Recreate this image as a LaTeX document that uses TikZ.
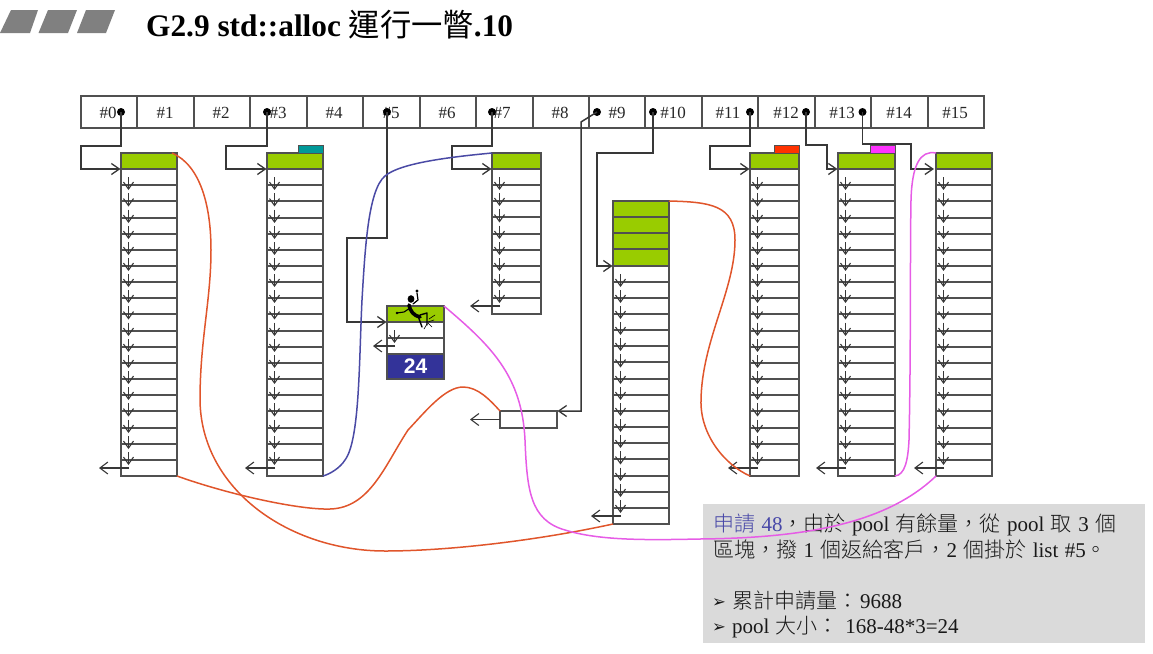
\documentclass[tikz,border=0pt]{standalone}
\usepackage{fontspec}
\usetikzlibrary{arrows.meta,calc}
\setmainfont{Liberation Serif}
\newfontfamily\cjk{Noto Sans CJK TC Light}
\newfontfamily\cjkt{Noto Sans CJK TC}
\newfontfamily\djv{DejaVu Sans}
\newfontfamily\lsans{Liberation Sans}
\definecolor{gline}{HTML}{505050}
\definecolor{dline}{HTML}{383838}
\definecolor{bargreen}{HTML}{99CC00}
\definecolor{hdrgrey}{HTML}{808080}
\definecolor{panelgrey}{HTML}{DADADA}
\definecolor{curveorange}{HTML}{E0552B}
\definecolor{curvemagenta}{HTML}{E65CE6}
\definecolor{curveblue}{HTML}{4A4AA5}
\definecolor{textblue}{HTML}{4848A8}
\definecolor{boxblue}{HTML}{333399}
\definecolor{tagteal}{HTML}{009999}
\definecolor{tagred}{HTML}{FF3300}
\definecolor{tagmagenta}{HTML}{FF33FF}
\newcommand{\gp}{\hspace{6.4pt}}
\tikzset{
  x=1pt,y=-1pt,
  cellbox/.style={draw=gline,line width=1.5pt,inner sep=0pt,outer sep=0pt,anchor=north west,rectangle},
  hdrlabel/.style={font=\fontsize{17}{18}\selectfont,text=black!85,inner sep=0pt},
  pdot/.style={circle,fill=black,inner sep=0pt,outer sep=0pt,minimum size=8pt},
  linkline/.style={draw=dline,line width=1.5pt,line join=miter},
  linkarrow/.style={linkline,-{Straight Barb[length=8pt,width=11pt,line width=1.3pt]},shorten >=0.5pt},
  nextarrow/.style={draw=dline,line width=1.1pt,-{Straight Barb[length=7pt,width=10pt,line width=1.1pt]}},
  outarrow/.style={draw=dline,line width=1.1pt,-{Straight Barb[length=8pt,width=12pt,line width=1.1pt]}},
  curve/.style={line width=1.5pt},
  tagbox/.style={draw=gline,line width=0.8pt,inner sep=0pt,outer sep=0pt,anchor=south east,minimum height=8pt,minimum width=25pt},
  panelline/.style={anchor=base west,inner sep=0pt,font=\fontsize{21}{24}\selectfont,text=black!90},
}
% name, left, top, width, rows, row height, green rows, arrow tip offset
\newcommand{\memstack}[8]{%
  \foreach \i in {1,...,#5}{%
    \pgfmathsetmacro{\yy}{round(#3+(\i-1)*#6)}%
    \pgfmathsetmacro{\hh}{round(#3+\i*#6)-\yy}%
    \pgfmathtruncatemacro{\isg}{\i<=#7 ? 1 : 0}%
    \ifnum\isg=1\relax
      \node[cellbox,fill=bargreen,minimum width=#4 pt,minimum height=\hh pt] (#1-\i) at (#2,\yy) {};
    \else
      \node[cellbox,fill=white,minimum width=#4 pt,minimum height=\hh pt] (#1-\i) at (#2,\yy) {};
    \fi
  }%
  \pgfmathtruncatemacro{\first}{#7+1}%
  \pgfmathtruncatemacro{\penult}{#5-1}%
  \foreach \i in {\first,...,\penult}{%
    \pgfmathtruncatemacro{\nx}{\i+1}%
    \draw[nextarrow] ($(#1-\i.west)+(7.5,0)$) -- ($(#1-\nx.west)+(7.5,-3)$);
  }%
  \draw[outarrow] ($(#1-#5.west)+(8,0)$) -- ($(#1-#5.west)+(#8,0)$);
}
\begin{document}
\begin{tikzpicture}
\useasboundingbox (0,0) rectangle (1153,653);
% header marks
\fill[hdrgrey] (11,10) -- (38,10) -- (30,33) -- (0,33) -- cycle;
\fill[hdrgrey] (48,10) -- (77,10) -- (68,33) -- (38.5,33) -- cycle;
\fill[hdrgrey] (86,10) -- (115,10) -- (106,33) -- (77,33) -- cycle;
\node[anchor=base west,inner sep=0pt,font=\fontsize{31.3}{34}\selectfont\bfseries] (title) at (146,36) {G2.9 std::alloc {\mdseries\cjkt 運行一瞥}.10};
% header cells
\foreach \n in {0,...,15}{%
  \pgfmathsetmacro{\xx}{round(81+\n*56.45)}%
  \pgfmathsetmacro{\ww}{round(81+(\n+1)*56.45)-\xx}%
  \node[cellbox,minimum width=\ww pt,minimum height=32pt] (h\n) at (\xx,96) {};
}
\foreach \n/\xx in {0/108,1/165,2/221,3/278,4/334,5/391,6/447,7/502,8/560,9/617,10/673,11/728,12/786,13/842,14/899,15/955}{%
  \node[hdrlabel] (hl\n) at (\xx,113) {\#\n};
}
% stacks
\memstack{s0}{121}{153}{56}{20}{16.15}{1}{-22}
\memstack{s3}{267}{153}{56}{20}{16.15}{1}{-22}
\memstack{s7}{492}{153}{49}{10}{16.1}{1}{-22}
\memstack{s10}{613}{201}{56}{20}{16.15}{4}{-22}
\memstack{s11}{750}{153}{49}{20}{16.15}{1}{-22}
\memstack{s12}{838}{153}{57}{20}{16.15}{1}{-22}
\memstack{s13}{936}{153}{56}{20}{16.15}{1}{-22}
\memstack{s5}{387}{306}{57}{3}{16}{1}{-14}
\node[cellbox,fill=white,minimum width=57pt,minimum height=17pt] (pool) at (500,411) {};
\draw[outarrow] (pool.west) -- ($(pool.west)+(-30,0)$);
\node[cellbox,fill=boxblue,minimum width=57pt,minimum height=25pt,text=white,font=\lsans\fontsize{21}{22}\selectfont\bfseries] (s5blue) at (387,354) {24};
% tags
\node[tagbox,fill=tagteal] (tagA) at (s3-1.north east) {};
\node[tagbox,fill=tagred] (tagB) at (s11-1.north east) {};
\node[tagbox,fill=tagmagenta] (tagC) at (s12-1.north east) {};
% pointers
\foreach \n/\xx in {0/121,3/267,5/387,7/492,9/597,10/653,11/750,12/806,13/862.5}{%
  \node[pdot] (d\n) at (\xx,112) {};
}
\coordinate (c0a) at (121,146); \coordinate (c0b) at (81,146);
\draw[linkarrow] (d0.center) -- (c0a) -- (c0b) |- (s0-1.south west);
\coordinate (c3a) at (267,146); \coordinate (c3b) at (226,146);
\draw[linkarrow] (d3.center) -- (c3a) -- (c3b) |- (s3-1.south west);
\coordinate (c5a) at (387,238); \coordinate (c5b) at (347,238);
\draw[linkarrow] (d5.center) -- (c5a) -- (c5b) |- (s5-1.south west);
\coordinate (c7a) at (492,146); \coordinate (c7b) at (452,146);
\draw[linkarrow] (d7.center) -- (c7a) -- (c7b) |- (s7-1.south west);
\coordinate (c9a) at (581,122); \coordinate (c9b) at (581,411);
\draw[linkarrow] (d9.center) -- (c9a) -- (c9b) -- (pool.north east);
\coordinate (c10a) at (653,153); \coordinate (c10b) at (597,153);
\draw[linkarrow] (d10.center) -- (c10a) -- (c10b) |- (s10-4.south west);
\coordinate (c11a) at (750,146); \coordinate (c11b) at (710,146);
\draw[linkarrow] (d11.center) -- (c11a) -- (c11b) |- (s11-1.south west);
\coordinate (c12a) at (806,145); \coordinate (c12b) at (827,145);
\draw[linkarrow] (d12.center) -- (c12a) -- (c12b) |- (s12-1.south west);
\coordinate (c13a) at (862.5,144); \coordinate (c13b) at (911,144);
\draw[linkarrow,shorten >=2pt] (d13.center) -- (c13a) -- (c13b) |- (s13-1.south west);
% stick figure
\begin{scope}[line cap=round,line join=round]
  \fill[black] (411,299) ellipse (3.4 and 3.8);
  \draw[black,line width=3.6pt] (409,305) .. controls (410,311) and (414,316) .. (420,317);
  \draw[black,line width=1.2pt] (413,304) -- (418,300) -- (417,293);
  \fill[black] (417,291) circle (1.7);
  \draw[black,line width=1.1pt] (410,308) -- (404,312) -- (397,313);
  \fill[black] (397,313) circle (1.4);
  \draw[black,line width=1.4pt] (418,316) -- (422,327);
  \draw[black,line width=1.4pt] (420,315) -- (427,313) -- (427,325);
  \draw[black,line width=0.6pt] (427,324) -- (424,329) (428,323) -- (432,327) (428,322) -- (434,320) (429,319) -- (435,315);
\end{scope}
% text panel
\node[fill=panelgrey,inner sep=0pt,outer sep=0pt,anchor=north west,minimum width=442pt,minimum height=139pt] (panel) at (702.5,504) {};
\node[panelline] (l1) at (713,531) {\textcolor{textblue}{{\cjk 申請}\gp 48}{\cjk ，由於}\gp pool\gp{\cjk 有餘量，從}\gp pool\gp{\cjk 取}\gp 3\gp{\cjk 個}};
\node[panelline] (l2) at (713,557) {{\cjk 區塊，撥}\gp 1\gp{\cjk 個返給客戶，}2\gp{\cjk 個掛於}\gp list\gp\#5{\cjk 。}};
\node[panelline,font=\fontsize{16.5}{18}\selectfont] (b3) at (712,607) {\djv ➢};
\node[panelline] (l3) at (732,608) {{\cjk 累計申請量：}\hspace{2pt}9688};
\node[panelline,font=\fontsize{16.5}{18}\selectfont] (b4) at (712,632) {\djv ➢};
\node[panelline] (l4) at (732,633) {pool\gp{\cjk 大小：}\gp 168-48*3=24};
% curves
\draw[curve,curveorange] ($(s0-1.north east)+(-5,0)$) .. controls (200,165) and (211,205) .. (211,250) .. controls (211,300) and (200,340) .. (200,400) .. controls (201,490) and (290,551) .. (385,551) .. controls (450,551) and (540,540) .. (s10-20.south west);
\draw[curve,curveorange] (s0-20.south east) .. controls (230,495) and (300,510) .. (330,509) .. controls (370,508) and (385,465) .. (408,430) .. controls (425,412) and (445,387) .. (463,387) .. controls (478,387) and (490,400) .. (pool.north west);
\draw[curve,curveorange] (s10-1.north east) .. controls (710,202) and (735,205) .. (735,240) .. controls (735,290) and (702,340) .. (701,400) .. controls (700,435) and (725,465) .. (s11-20.south west);
\draw[curve,curveblue] (s7-1.north west) .. controls (450,157) and (400,163) .. (385,176) .. controls (368,190) and (365,250) .. (362,300) .. controls (359,360) and (360,440) .. (345,460) .. controls (340,468) and (330,474) .. (s3-20.south east);
\draw[curve,curvemagenta] (s5-1.north east) .. controls (490,345) and (522,375) .. (525,440) .. controls (527,490) and (530,520) .. (565,530) .. controls (600,541) and (650,540) .. (700,539) .. controls (800,538) and (885,525) .. (s13-20.south west);
\draw[curve,curvemagenta] (s12-20.south east) .. controls (905,475) and (908,460) .. (909,440) .. controls (911,350) and (910,250) .. (911,200) .. controls (912,165) and (920,150) .. (s13-1.north west);
\end{tikzpicture}
\end{document}
